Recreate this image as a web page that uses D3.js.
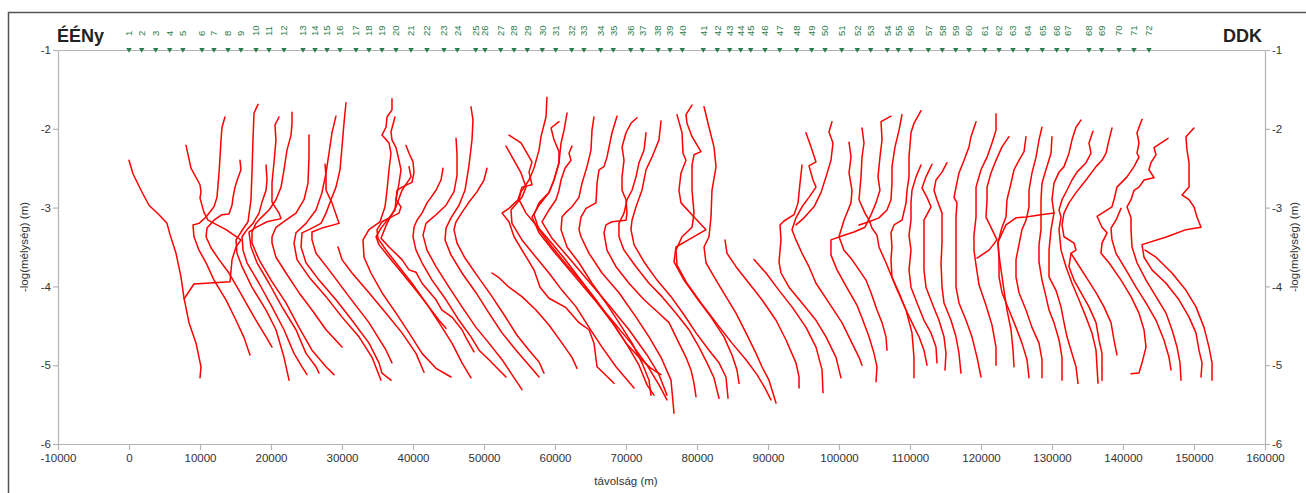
<!DOCTYPE html>
<html><head><meta charset="utf-8">
<script src="https://cdn.jsdelivr.net/npm/d3@7"></script>
<style>body{margin:0;background:#fff}svg{display:block}text{font-family:"Liberation Sans",Arial,sans-serif}</style>
</head><body><svg id="chart" width="1306" height="493"></svg>
<script>
const stationNames = ["1","2","3","4","5","6","7","8","9","10","11","12","13","14","15","16","17","18","19","20","21","22","23","24","25","26","27","28","29","30","31","32","33","34","35","36","37","38","39","40","41","42","43","44","45","46","47","48","49","50","51","52","53","54","55","56","57","58","59","60","61","62","63","64","65","66","67","68","69","70","71","72"];
const stationX = [0,1790,3760,5730,7600,10280,11970,13940,15770,17890,19720,21830,24510,26200,27890,29720,31970,33800,35630,37610,39720,41970,44370,46240,48830,50140,52350,54230,56100,58210,60100,62350,64080,66430,68210,70660,72300,74510,76200,77930,80890,82860,84600,86150,87560,89580,91650,94040,96150,98030,100380,102580,104460,106800,108350,110100,112580,114550,116440,118310,120520,122540,124510,126520,128630,130660,132150,135210,136990,139440,141550,143660];
const xTicks = [-10000,0,10000,20000,30000,40000,50000,60000,70000,80000,90000,100000,110000,120000,130000,140000,150000,160000];
const yTicks = [-1,-2,-3,-4,-5,-6];

const c01 = [[0,-2.40],[560,-2.57],[1690,-2.78],[2820,-2.97],[4230,-3.09],[5350,-3.20],[5770,-3.34],[6620,-3.58],[7320,-3.88],[7750,-4.15],[8450,-4.46],[9440,-4.72],[9860,-4.90],[10140,-5.02],[10000,-5.16]];
const c02 = [[8030,-2.21],[8730,-2.50],[10000,-2.71],[10140,-2.80],[10000,-2.88],[10560,-3.06],[11130,-3.16],[13660,-3.28],[15770,-3.41],[15070,-3.50],[14510,-3.66],[14230,-3.94],[9150,-3.97],[7750,-4.16]];
const c03 = [[13520,-1.85],[13100,-1.98],[12960,-2.14],[12820,-2.36],[12680,-2.56],[12390,-2.87],[11970,-2.99],[10850,-3.12],[9860,-3.20],[9010,-3.22],[9150,-3.37],[9860,-3.54],[10850,-3.70],[11970,-3.92],[13660,-4.17],[15070,-4.43],[16200,-4.65],[17040,-4.87]];
const c04 = [[15630,-2.40],[15770,-2.52],[15350,-2.62],[14930,-2.74],[14650,-2.87],[14510,-2.97],[14080,-3.08],[13100,-3.09],[11970,-3.16],[10990,-3.26],[10850,-3.37],[11550,-3.51],[12680,-3.66],[14080,-3.83],[15490,-4.05],[16480,-4.21],[17890,-4.43],[19300,-4.64],[20140,-4.77]];
const c05 = [[18170,-1.69],[17610,-1.80],[17460,-2.14],[17320,-2.56],[17180,-2.90],[16760,-3.18],[15770,-3.31],[15070,-3.41],[15210,-3.58],[15920,-3.75],[17320,-4.01],[19300,-4.30],[20700,-4.55],[21830,-4.90],[22540,-5.19]];
const c06 = [[19300,-2.46],[19440,-2.65],[19300,-2.78],[18730,-2.93],[18310,-3.07],[17460,-3.20],[16620,-3.28],[15920,-3.37],[16060,-3.54],[16620,-3.70],[18310,-3.96],[20140,-4.26],[21830,-4.55],[23240,-4.85],[24370,-5.02],[25070,-5.12]];
const c07 = [[21130,-1.85],[20560,-1.95],[20700,-2.14],[20420,-2.43],[20140,-2.69],[20140,-2.93],[21130,-3.07],[21410,-3.14],[19440,-3.18],[17890,-3.25],[16900,-3.31],[17180,-3.50],[18030,-3.70],[19720,-3.96],[21550,-4.26],[23520,-4.55],[24930,-4.85],[26340,-5.02],[26760,-5.10]];
const c08 = [[22960,-1.79],[22960,-1.93],[22820,-2.08],[22250,-2.27],[21830,-2.52],[21410,-2.74],[20700,-2.90],[19720,-3.03],[18590,-3.13],[17890,-3.20],[17320,-3.31],[17320,-3.45],[18310,-3.66],[20000,-3.92],[22110,-4.21],[23940,-4.52],[25770,-4.81],[27750,-5.02],[28870,-5.12]];
const c09 = [[25350,-2.08],[25350,-2.36],[25210,-2.69],[24650,-2.90],[23520,-3.07],[22110,-3.16],[20700,-3.25],[20140,-3.37],[20140,-3.45],[20700,-3.63],[22110,-3.83],[23940,-4.08],[25770,-4.30],[27750,-4.55],[30000,-4.77]];
const c10 = [[29150,-1.84],[28590,-2.05],[28170,-2.31],[27750,-2.56],[27180,-2.81],[26340,-3.03],[24930,-3.20],[23520,-3.32],[23240,-3.45],[23660,-3.66],[25350,-3.88],[27750,-4.13],[30000,-4.39],[32390,-4.64],[34230,-4.90],[34930,-5.06],[35490,-5.19]];
const c11 = [[30560,-1.67],[30280,-1.93],[30000,-2.23],[29720,-2.52],[29150,-2.74],[28450,-2.90],[27750,-3.07],[27040,-3.20],[25350,-3.28],[24370,-3.32],[24230,-3.50],[24930,-3.70],[26760,-3.92],[29150,-4.17],[31410,-4.43],[33800,-4.72],[35210,-4.97],[35630,-5.10],[36900,-5.19]];
const c12 = [[27610,-2.45],[27750,-2.61],[27750,-2.78],[28590,-2.94],[29580,-3.20],[27180,-3.26],[25770,-3.31],[25770,-3.41],[26340,-3.58],[28170,-3.79],[30990,-4.13],[33800,-4.46],[36200,-4.81],[37040,-4.97]];
const c13 = [[29440,-3.50],[30000,-3.66],[31410,-3.83],[33800,-4.08],[36200,-4.34],[38450,-4.59],[40420,-4.85],[41550,-5.09]];
const c14 = [[37040,-1.62],[37040,-1.76],[36340,-1.85],[36200,-1.98],[35630,-2.08],[36620,-2.18],[36900,-2.31],[36620,-2.52],[36340,-2.78],[36060,-2.99],[35350,-3.18],[33800,-3.28],[32960,-3.41],[33100,-3.63],[34080,-3.83],[35630,-4.08],[37610,-4.34],[39440,-4.59],[41270,-4.85],[43240,-5.04],[45350,-5.15]];
const c15 = [[37460,-1.85],[36900,-2.04],[37040,-2.14],[37610,-2.24],[38030,-2.40],[38310,-2.52],[38030,-2.69],[37610,-2.90],[37460,-3.03],[36620,-3.13],[35490,-3.26],[34790,-3.37],[35210,-3.47],[36620,-3.63],[38450,-3.83],[40420,-4.05],[42250,-4.26],[43660,-4.43],[44650,-4.53]];
const c16 = [[39010,-2.21],[39440,-2.31],[40000,-2.42],[40140,-2.55],[39860,-2.68],[38450,-2.74],[37750,-2.78],[37610,-2.90],[38310,-2.99],[38030,-3.07],[36900,-3.12],[35630,-3.18],[34930,-3.28],[35070,-3.39],[36200,-3.54],[38030,-3.75],[39860,-3.96],[41830,-4.21],[43660,-4.46],[45490,-4.72],[46900,-4.97],[48170,-5.16]];
const c17 = [[39440,-2.48],[39720,-2.61],[38450,-2.78],[37610,-2.99],[36340,-3.20],[35490,-3.39],[36620,-3.50],[38450,-3.66],[39440,-3.79],[40420,-3.82],[41270,-3.96],[43240,-4.17],[44080,-4.30],[45490,-4.39],[46900,-4.55],[47460,-4.65],[48590,-4.83]];
const c18 = [[44230,-2.50],[43940,-2.65],[43240,-2.78],[42540,-2.87],[41970,-2.94],[41270,-3.07],[40560,-3.16],[40140,-3.25],[40000,-3.37],[40420,-3.54],[41270,-3.70],[42680,-3.92],[44650,-4.17],[46480,-4.43],[48170,-4.64],[49300,-4.81],[50700,-4.93],[52110,-5.06],[53100,-5.15]];
const c19 = [[46060,-2.12],[46200,-2.33],[46200,-2.59],[45770,-2.80],[44650,-2.97],[43240,-3.09],[41830,-3.20],[41410,-3.35],[41970,-3.54],[43240,-3.75],[45070,-4.01],[46900,-4.26],[48870,-4.52],[50700,-4.72],[52540,-4.93],[53940,-5.12],[55350,-5.31]];
const c20 = [[48170,-1.72],[48450,-1.89],[48310,-2.14],[47890,-2.46],[47320,-2.78],[46480,-2.97],[45350,-3.13],[44650,-3.26],[44510,-3.41],[45350,-3.60],[46900,-3.83],[48870,-4.08],[50700,-4.34],[52540,-4.59],[54510,-4.81],[56340,-5.00],[57750,-5.15]];
const c21 = [[50420,-2.50],[50000,-2.65],[49010,-2.80],[47890,-2.93],[46900,-3.06],[46060,-3.18],[45770,-3.28],[46200,-3.45],[47320,-3.64],[49010,-3.86],[50990,-4.11],[52820,-4.36],[54650,-4.62],[56340,-4.81],[57750,-4.96],[58450,-5.10]];
const c22 = [[51130,-3.83],[52110,-3.89],[53520,-4.01],[55350,-4.13],[57320,-4.30],[59150,-4.49],[60990,-4.72],[62390,-4.90],[63100,-5.04]];
const c23 = [[53520,-2.08],[55210,-2.18],[56760,-2.42],[56340,-2.55],[56760,-2.71],[55350,-2.74],[54790,-2.90],[53520,-3.01],[52540,-3.07],[53520,-3.18],[54230,-3.37],[55630,-3.58],[57040,-3.79],[57890,-4.01],[59150,-4.15],[61550,-4.27],[63380,-4.46],[64790,-4.55],[65490,-4.72],[65920,-5.02],[68310,-5.23]];
const c24 = [[53100,-2.22],[54230,-2.40],[55210,-2.56],[55920,-2.74],[55350,-2.87],[53800,-3.03],[53940,-3.20],[55350,-3.41],[57320,-3.63],[59150,-3.83],[60990,-4.05],[62960,-4.26],[64790,-4.52],[66620,-4.77],[68590,-5.02],[71130,-5.29]];
const c25 = [[58870,-1.60],[58730,-1.85],[58030,-2.10],[57750,-2.27],[57040,-2.50],[56340,-2.65],[55210,-2.80],[54930,-2.90],[55920,-3.07],[57320,-3.22],[59150,-3.41],[61270,-3.64],[63380,-3.89],[65770,-4.17],[68030,-4.45],[70000,-4.72],[71830,-4.90],[73520,-5.04],[74930,-5.12]];
const c26 = [[60560,-1.91],[59440,-1.99],[59860,-2.14],[60560,-2.29],[60560,-2.43],[59860,-2.65],[59150,-2.81],[57750,-2.94],[57040,-3.09],[57750,-3.28],[59580,-3.50],[61690,-3.73],[64080,-3.98],[66200,-4.24],[68310,-4.49],[70140,-4.74],[71830,-5.00],[72960,-5.25],[73940,-5.38]];
const c27 = [[61690,-1.80],[61270,-2.02],[60850,-2.18],[60560,-2.43],[59860,-2.65],[59150,-2.81],[57750,-2.97],[56760,-3.12],[57750,-3.32],[59860,-3.56],[62390,-3.83],[65210,-4.13],[68030,-4.43],[70700,-4.72],[72960,-5.00],[74650,-5.25],[75770,-5.44]];
const c28 = [[62390,-2.22],[61970,-2.31],[62250,-2.40],[61410,-2.50],[60850,-2.65],[60560,-2.78],[60140,-2.90],[59150,-3.03],[58170,-3.18],[59580,-3.39],[61970,-3.64],[64790,-3.94],[67610,-4.24],[70420,-4.55],[72960,-4.87],[74650,-5.12],[75770,-5.38]];
const c29 = [[65490,-1.85],[65210,-2.02],[65070,-2.27],[64510,-2.48],[63800,-2.69],[63380,-2.87],[62390,-2.99],[61550,-3.06],[60990,-3.12],[60850,-3.28],[61690,-3.50],[63380,-3.70],[65210,-3.96],[67180,-4.21],[69010,-4.46],[70850,-4.72],[72250,-4.97],[73240,-5.19],[73520,-5.38]];
const c30 = [[68730,-1.84],[68030,-2.05],[67320,-2.36],[66900,-2.48],[66200,-2.52],[65920,-2.69],[65770,-2.94],[64370,-3.01],[63660,-3.12],[63380,-3.28],[63660,-3.37],[64790,-3.58],[66620,-3.83],[69010,-4.08],[71410,-4.39],[73240,-4.64],[74930,-4.90],[76340,-5.19],[76760,-5.61]];
const c31 = [[71550,-1.86],[70700,-1.93],[70000,-2.05],[69440,-2.23],[69720,-2.40],[69440,-2.61],[69440,-2.78],[70000,-2.90],[70140,-3.07],[70000,-3.16],[68030,-3.18],[67180,-3.22],[66900,-3.32],[67320,-3.54],[68590,-3.75],[70420,-3.96],[72540,-4.17],[74650,-4.34],[76060,-4.46],[77460,-4.72],[78450,-4.90],[79150,-5.06],[79580,-5.23],[79860,-5.40]];
const c32 = [[72820,-2.05],[72540,-2.27],[71830,-2.43],[71410,-2.61],[70850,-2.78],[70140,-2.90],[69720,-3.07],[69010,-3.20],[69010,-3.37],[69720,-3.54],[71410,-3.75],[73240,-3.96],[75070,-4.13],[77040,-4.34],[78870,-4.55],[80280,-4.77],[81410,-4.97],[82390,-5.16],[83100,-5.42]];
const c33 = [[74930,-1.90],[74650,-2.14],[73660,-2.36],[72820,-2.52],[72250,-2.78],[71410,-2.99],[70850,-3.16],[70700,-3.28],[71130,-3.47],[72540,-3.69],[74370,-3.92],[76340,-4.13],[78170,-4.36],[79860,-4.59],[81690,-4.81],[83100,-4.97],[84080,-5.15],[84370,-5.42]];
const c34 = [[77180,-1.82],[77890,-2.05],[78030,-2.31],[78450,-2.40],[77750,-2.56],[77460,-2.78],[77750,-2.94],[79580,-3.12],[81270,-3.28],[79150,-3.39],[77040,-3.50],[76760,-3.69],[78170,-3.92],[80000,-4.15],[81970,-4.39],[83800,-4.64],[84930,-4.87],[85630,-5.06],[85920,-5.23]];
const c35 = [[79300,-1.70],[78450,-1.82],[78590,-1.93],[79300,-2.10],[80560,-2.29],[79580,-2.33],[79300,-2.46],[79300,-2.78],[79580,-3.07],[79300,-3.25],[77890,-3.37],[77040,-3.54],[77180,-3.73],[78590,-3.96],[80560,-4.21],[82680,-4.46],[84930,-4.72],[86900,-4.93],[88450,-5.12],[89580,-5.29],[90420,-5.44]];
const c36 = [[80990,-1.72],[81690,-1.98],[82390,-2.23],[82680,-2.48],[82110,-2.78],[81970,-3.12],[81690,-3.37],[80990,-3.50],[81270,-3.70],[82680,-3.92],[84080,-4.13],[85490,-4.34],[86900,-4.59],[88310,-4.85],[89150,-5.02],[90140,-5.19],[91130,-5.48]];
const c37 = [[83940,-3.41],[84230,-3.58],[85490,-3.75],[87320,-3.96],[89150,-4.17],[91130,-4.43],[92540,-4.68],[93940,-4.97],[94370,-5.15],[94370,-5.29]];
const c38 = [[88030,-3.66],[89720,-3.83],[91550,-4.05],[93380,-4.26],[95350,-4.52],[96760,-4.77],[97610,-5.06],[97750,-5.35]];
const c39 = [[94790,-2.46],[94510,-2.69],[94230,-2.94],[93660,-3.09],[92250,-3.17],[91690,-3.22],[91830,-3.41],[91550,-3.69],[91830,-3.83],[92960,-4.01],[94790,-4.21],[96760,-4.43],[98170,-4.64],[99580,-4.90],[100280,-5.16]];
const c40 = [[95350,-2.05],[96060,-2.23],[96760,-2.42],[95770,-2.47],[96340,-2.65],[96760,-2.74],[95770,-2.87],[94790,-2.99],[93940,-3.13],[93380,-3.28],[93940,-3.41],[94790,-3.58],[95770,-3.75],[96760,-3.96],[98590,-4.21],[100420,-4.46],[101830,-4.72],[102820,-4.90],[103240,-5.00]];
const c41 = [[99010,-1.91],[98590,-2.04],[99150,-2.18],[98870,-2.40],[98170,-2.61],[97460,-2.81],[96480,-2.99],[95070,-3.13],[93940,-3.22]];
const c42 = [[101410,-2.17],[101690,-2.36],[101410,-2.56],[101830,-2.78],[101690,-2.94],[100700,-3.16],[100000,-3.37],[100700,-3.54],[101830,-3.66],[102820,-3.79],[103800,-3.92],[104510,-4.08],[105350,-4.30],[106060,-4.46],[106620,-4.64],[106760,-4.81]];
const c43 = [[103240,-1.99],[103520,-2.18],[103240,-2.36],[103100,-2.61],[102820,-2.90],[103660,-3.07],[104230,-3.16],[104650,-3.26],[105350,-3.35],[105630,-3.50],[106620,-3.70],[108030,-4.01],[109440,-4.30],[110280,-4.59],[110560,-4.90],[110560,-5.16]];
const c44 = [[107320,-1.84],[105920,-1.91],[106060,-2.14],[105770,-2.36],[105490,-2.61],[105770,-2.78],[105210,-2.94],[104510,-3.09],[103660,-3.25],[102110,-3.31],[100700,-3.35],[98870,-3.41],[98870,-3.60],[99720,-3.79],[101130,-4.02],[102540,-4.24],[103240,-4.40],[104230,-4.64],[104930,-4.85],[105350,-5.02],[105210,-5.21]];
const c45 = [[108870,-1.82],[108450,-2.02],[107890,-2.23],[107460,-2.48],[107460,-2.69],[107320,-2.90],[106760,-3.03],[105630,-3.13],[104230,-3.18],[102820,-3.22]];
const c46 = [[111550,-1.77],[110560,-1.93],[110140,-2.05],[109860,-2.36],[109860,-2.61],[109580,-2.78],[109440,-2.94],[108870,-3.16],[107750,-3.22],[107320,-3.32],[107460,-3.50],[107320,-3.66],[107460,-3.88],[108450,-4.08],[109440,-4.30],[110280,-4.46],[111270,-4.64],[111970,-4.81],[112390,-5.00]];
const c47 = [[111550,-2.46],[110850,-2.61],[110280,-2.78],[110140,-2.94],[110140,-3.16],[109860,-3.35],[110140,-3.54],[109860,-3.79],[110140,-4.01],[110990,-4.21],[111970,-4.43],[112960,-4.59],[113660,-4.77],[113800,-4.97]];
const c48 = [[113100,-2.45],[112250,-2.61],[111690,-2.75],[112390,-2.87],[112960,-2.99],[111970,-3.16],[111970,-3.37],[111970,-3.58],[111970,-3.79],[112250,-4.01],[113100,-4.21],[114080,-4.43],[114790,-4.64],[115070,-4.85],[114930,-5.06]];
const c49 = [[115210,-2.43],[114510,-2.55],[113660,-2.65],[113380,-2.78],[113800,-2.90],[114510,-3.07],[114510,-3.25],[114510,-3.45],[114370,-3.70],[114510,-4.01],[114790,-4.21],[115770,-4.43],[116480,-4.64],[116900,-4.85],[117180,-5.10]];
const c50 = [[119300,-1.91],[118590,-2.10],[118310,-2.23],[117610,-2.40],[116900,-2.56],[116480,-2.74],[116200,-2.87],[116620,-2.94],[116480,-3.12],[116480,-3.37],[116480,-3.70],[116480,-4.01],[116900,-4.21],[117890,-4.43],[118730,-4.64],[119440,-4.90],[120000,-5.15]];
const c51 = [[122110,-1.81],[122110,-2.02],[121550,-2.18],[120850,-2.36],[120000,-2.52],[119300,-2.74],[119300,-2.90],[119300,-3.12],[119010,-3.35],[119010,-3.54],[119300,-3.73],[119720,-3.98],[120700,-4.24],[121550,-4.49],[122110,-4.77],[122110,-5.00]];
const c52 = [[123940,-2.10],[122960,-2.23],[122110,-2.40],[121410,-2.56],[120850,-2.74],[120850,-2.90],[120700,-3.12],[121410,-3.25],[122250,-3.41],[121130,-3.54],[119440,-3.64]];
const c53 = [[126340,-2.10],[126060,-2.29],[125350,-2.40],[124650,-2.52],[124230,-2.69],[123660,-2.90],[123520,-3.12],[122960,-3.25],[122390,-3.44],[122540,-3.60],[122820,-3.79],[123240,-4.05],[123660,-4.30],[124230,-4.55],[124510,-4.81],[124650,-5.02]];
const c54 = [[134080,-1.89],[133380,-1.98],[132820,-2.14],[132390,-2.31],[131690,-2.48],[130990,-2.55],[130280,-2.69],[130000,-2.90],[130280,-3.07],[129860,-3.28],[129580,-3.54],[129580,-3.88],[130560,-4.05],[131270,-4.26],[131690,-4.46],[132110,-4.64],[132680,-4.81],[133380,-5.02],[133660,-5.23]];
const c55 = [[130280,-3.07],[128450,-3.09],[126340,-3.12],[124930,-3.13],[123520,-3.22],[122390,-3.44],[122540,-3.66],[122540,-3.88],[122960,-4.08],[123940,-4.30],[124930,-4.52],[125770,-4.72],[126480,-4.93],[126760,-5.16]];
const c56 = [[128590,-1.98],[128170,-2.14],[127750,-2.36],[127180,-2.56],[126760,-2.78],[126760,-2.99],[126340,-3.16],[125770,-3.28],[125350,-3.47],[124930,-3.66],[124930,-3.88],[125350,-4.08],[126340,-4.30],[127180,-4.52],[128170,-4.72],[128590,-4.93],[128590,-5.16]];
const c57 = [[130000,-2.10],[129860,-2.31],[129150,-2.52],[128590,-2.69],[128450,-2.90],[128450,-3.09],[128450,-3.28],[128170,-3.47],[128170,-3.69],[128590,-3.92],[129150,-4.13],[129580,-4.30],[130280,-4.46],[130990,-4.68],[131410,-4.90],[131410,-5.19]];
const c58 = [[135770,-2.03],[135210,-2.18],[135490,-2.31],[134790,-2.43],[133520,-2.55],[132820,-2.65],[132110,-2.78],[131410,-2.90],[130990,-3.03],[131270,-3.12],[130990,-3.28],[131270,-3.54],[131970,-3.75],[132820,-3.96],[133800,-4.17],[134790,-4.39],[135630,-4.59],[136200,-4.81],[136340,-5.02],[136480,-5.23]];
const c59 = [[138450,-1.99],[138030,-2.14],[137610,-2.31],[137040,-2.40],[136200,-2.48],[134790,-2.65],[133380,-2.81],[132390,-2.94],[131690,-3.07],[131410,-3.22],[131690,-3.37],[133100,-3.45],[133380,-3.54],[132680,-3.58],[133520,-3.70],[134790,-3.88],[136200,-4.08],[137320,-4.26],[138310,-4.46],[138730,-4.68],[139150,-4.87]];
const c60 = [[132680,-3.58],[132390,-3.75],[133100,-3.92],[134080,-4.08],[135210,-4.26],[136200,-4.46],[136620,-4.68],[137040,-4.85],[137040,-5.02],[137040,-5.19]];
const c61 = [[142680,-1.88],[141970,-2.05],[142250,-2.18],[141970,-2.31],[142250,-2.36],[141550,-2.48],[140560,-2.61],[139150,-2.74],[138730,-2.90],[138450,-2.99],[136340,-3.11],[137040,-3.25],[137750,-3.32],[137040,-3.45],[136900,-3.58],[138030,-3.70],[139720,-3.92],[141130,-4.13],[142250,-4.34],[142960,-4.55],[143240,-4.77],[142680,-4.97],[142250,-5.10],[141130,-5.11]];
const c62 = [[146340,-2.12],[144370,-2.24],[144650,-2.33],[143940,-2.43],[143660,-2.52],[144370,-2.62],[142960,-2.65],[142250,-2.74],[141550,-2.78],[141130,-2.90],[140560,-2.99],[141130,-3.13],[141130,-3.28],[141270,-3.50],[141970,-3.70],[143240,-3.92],[144650,-4.13],[146060,-4.34],[146900,-4.55],[147610,-4.77],[148030,-4.97],[148170,-5.19]];
const c63 = [[139720,-3.01],[139010,-3.16],[138310,-3.26],[138450,-3.41],[139010,-3.58],[140420,-3.79],[141830,-4.01],[143240,-4.21],[144650,-4.43],[145770,-4.68],[146480,-4.90],[146760,-5.06]];
const c64 = [[150000,-1.99],[148870,-2.10],[149010,-2.27],[149300,-2.43],[149300,-2.74],[148310,-2.84],[149300,-2.90],[150000,-2.99],[150420,-3.12],[150990,-3.25],[148870,-3.28],[146760,-3.35],[146200,-3.37],[142680,-3.47],[142960,-3.63],[144080,-3.79],[146060,-3.96],[147890,-4.17],[149300,-4.39],[150280,-4.59],[150700,-4.81],[151130,-4.97],[150990,-5.15]];
const c65 = [[143100,-3.54],[144650,-3.63],[146900,-3.83],[148870,-4.05],[150280,-4.26],[151410,-4.52],[152110,-4.77],[152540,-4.97],[152540,-5.19]];

const curves = [c01,c02,c03,c04,c05,c06,c07,c08,c09,c10,c11,c12,c13,c14,c15,c16,c17,c18,c19,c20,c21,c22,c23,c24,c25,c26,c27,c28,c29,c30,c31,c32,c33,c34,c35,c36,c37,c38,c39,c40,c41,c42,c43,c44,c45,c46,c47,c48,c49,c50,c51,c52,c53,c54,c55,c56,c57,c58,c59,c60,c61,c62,c63,c64,c65];

const svg = d3.select("#chart");
const x = d3.scaleLinear().domain([-10000,160000]).range([58,1265]);
const y = d3.scaleLinear().domain([-6,-1]).range([444,50]);
const axisColor = "#b4b4b4", labelColor = "#333";

svg.append("rect").attr("x",8.5).attr("y",12.5).attr("width",1310).attr("height",500)
  .attr("fill","none").attr("stroke","#555").attr("stroke-width",1.5);

function styleAxis(g){
  g.select(".domain").attr("stroke",axisColor).attr("stroke-width",1.2);
  g.selectAll(".tick line").attr("stroke",axisColor).attr("stroke-width",1.2);
  g.selectAll(".tick text").attr("fill",labelColor).style("font-size","11.5px").style("font-family","'Liberation Sans',Arial,sans-serif");
}
const fmt = d => String(d);
svg.append("g").attr("transform",`translate(0,${y(-6)})`)
  .call(d3.axisBottom(x).tickValues(xTicks).tickFormat(fmt).tickSize(6).tickSizeOuter(0).tickPadding(4)).call(styleAxis);
svg.append("g").attr("transform",`translate(0,${y(-1)})`)
  .call(d3.axisTop(x).tickValues([]).tickSizeOuter(0)).call(styleAxis);
svg.append("g").attr("transform",`translate(${x(-10000)},0)`)
  .call(d3.axisLeft(y).tickValues(yTicks).tickFormat(fmt).tickSize(5).tickSizeOuter(0).tickPadding(2)).call(styleAxis);
svg.append("g").attr("transform",`translate(${x(160000)},0)`)
  .call(d3.axisRight(y).tickValues(yTicks).tickFormat(fmt).tickSize(5).tickSizeOuter(0).tickPadding(2)).call(styleAxis);

const line = d3.line().x(d=>x(d[0])).y(d=>y(d[1]));
svg.append("g").selectAll("path").data(curves).join("path")
  .attr("d",line).attr("fill","none").attr("stroke","#ff0000").attr("stroke-width",1.5)
  .attr("stroke-linejoin","round").attr("stroke-linecap","round");

const green = "#2a7d4c";
const st = svg.append("g");
st.selectAll("path").data(stationX).join("path")
  .attr("d", d3.symbol(d3.symbolTriangle).size(13))
  .attr("transform", d=>`translate(${x(d)},${y(-1)-0.5}) rotate(180)`)
  .attr("fill", green);
st.selectAll("text").data(stationNames).join("text")
  .attr("transform",(d,i)=>`translate(${x(stationX[i])},36) rotate(-90)`)
  .attr("dy","0.35em").attr("text-anchor","start")
  .attr("fill",green).style("font-size","9.5px").text(d=>d);

svg.append("text").attr("x",57).attr("y",42).attr("fill","#222").style("font-size","18px").style("font-weight","bold").text("ÉÉNy");
svg.append("text").attr("x",1262).attr("y",42).attr("text-anchor","end").attr("fill","#222").style("font-size","18px").style("font-weight","bold").text("DDK");
svg.append("text").attr("x",x(70000)).attr("y",485).attr("text-anchor","middle").attr("fill",labelColor).style("font-size","11.5px").text("távolság (m)");
svg.append("text").attr("transform",`translate(28,${y(-3.5)}) rotate(-90)`).attr("text-anchor","middle").attr("fill",labelColor).style("font-size","11.5px").text("-log(mélység) (m)");
svg.append("text").attr("transform",`translate(1298,${y(-3.5)}) rotate(-90)`).attr("text-anchor","middle").attr("fill",labelColor).style("font-size","11.5px").text("-log(mélység) (m)");
</script></body></html>
